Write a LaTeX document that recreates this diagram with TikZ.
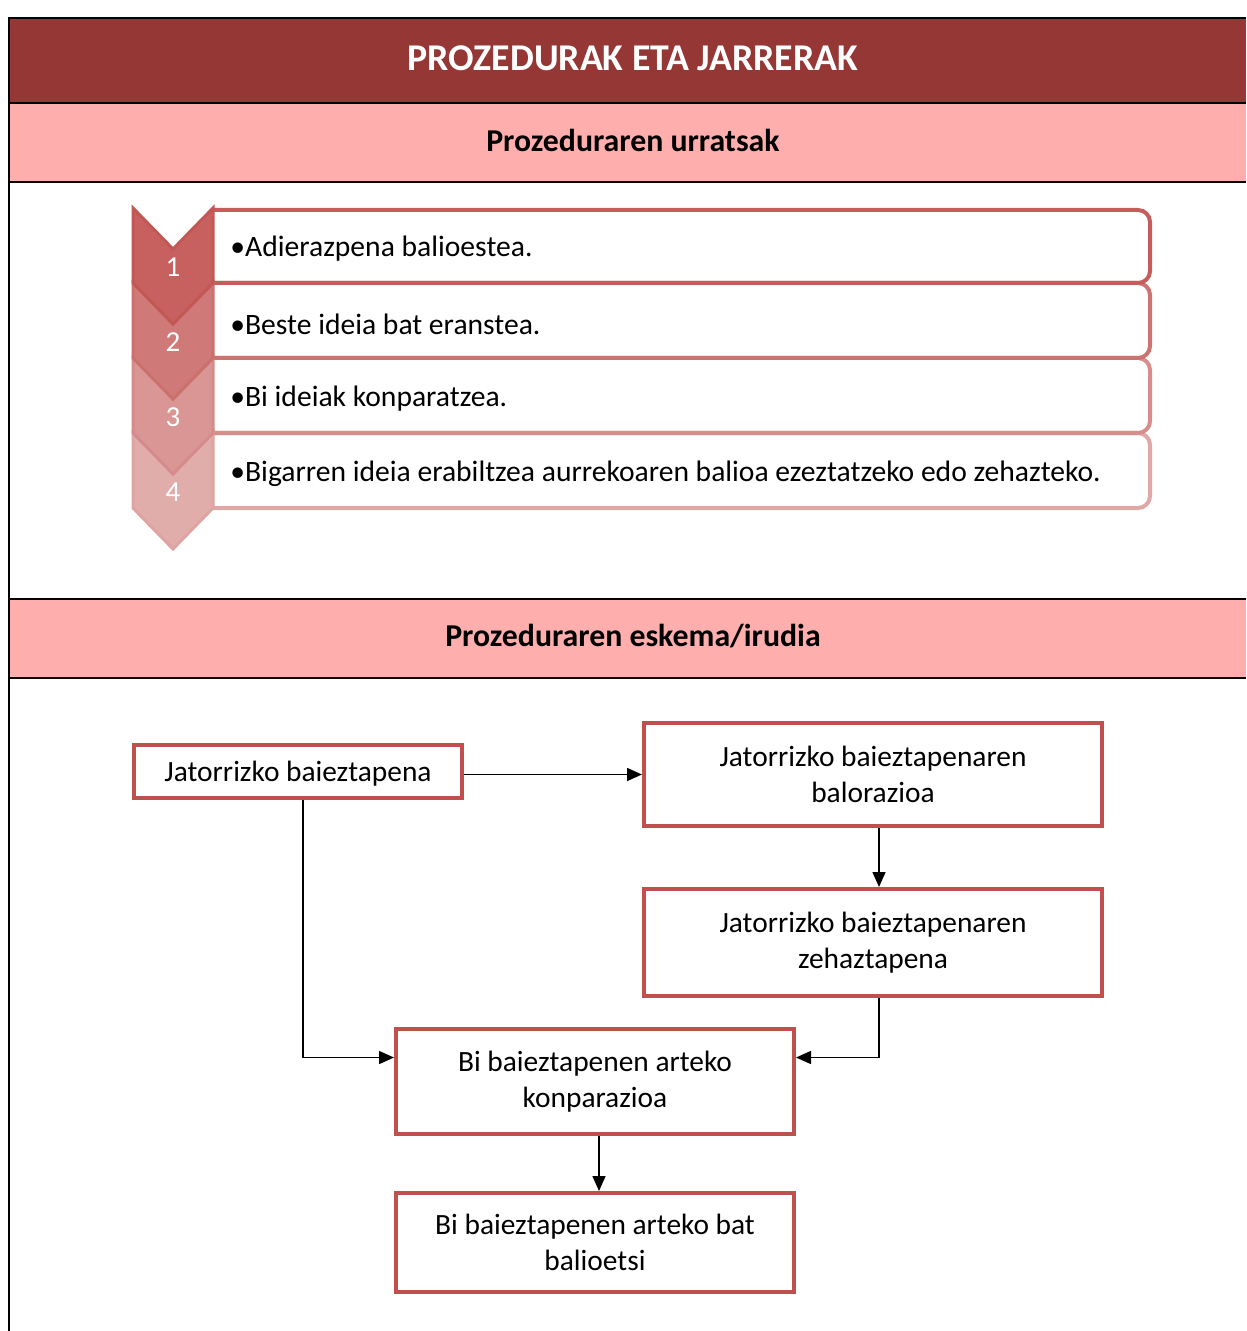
\documentclass[tikz,border=0pt]{standalone}
\usepackage{fontspec}
\setmainfont{Carlito}
\usetikzlibrary{arrows.meta,calc}
\definecolor{hdrred}{RGB}{149,55,53}
\definecolor{bandpink}{RGB}{255,174,174}
\definecolor{boxred}{RGB}{192,80,77}

\begin{document}
\begin{tikzpicture}[
      x=0.5pt, y=-0.5pt,
      frame/.style={draw=black, line width=1pt},
      band/.style={fill=bandpink},
      sect/.style={font=\fontsize{15.9}{18}\selectfont\bfseries, text=black},
      chev/.style 2 args={fill=boxred!#1, draw=boxred!#2, line width=1.5pt, line join=miter},
      num/.style={font=\fontsize{14.5}{16}\selectfont, text=white},
      itembox/.style={draw=boxred!#1, line width=2pt, rounded corners=6pt},
      item/.style={anchor=west, font=\fontsize{14.8}{17}\selectfont, inner sep=0pt},
      fbox/.style 2 args={draw=boxred, line width=2pt, minimum width=#1, minimum height=#2,
                          align=center, font=\fontsize{14.7}{18}\selectfont, inner sep=0pt},
      arr/.style={-{Triangle[length=7.5pt, width=6.5pt]}, line width=0.75pt},
    ]
    \useasboundingbox (0,0) rectangle (1246,1331);

    % header bands
    \fill[hdrred] (9,18) rectangle (1246,103);
    \fill[band] (9,103) rectangle (1246,182);
    \fill[band] (9,599) rectangle (1246,678);
    \draw[frame] (9,1331) -- (9,18) -- (1246,18);
    \draw[frame] (9,103) -- (1246,103);
    \draw[frame] (9,182) -- (1246,182);
    \draw[frame] (9,599) -- (1246,599);
    \draw[frame] (9,678) -- (1246,678);

    \node[font=\fontsize{18.9}{22}\selectfont\bfseries, text=white] (title) at (633,58)
      {PROZEDURAK ETA JARRERAK};
    \node[sect] (steps) at (633,140) {Prozeduraren urratsak};
    \node[sect] (scheme) at (633,636) {Prozeduraren eskema/irudia};

    % step list
    \draw[itembox=50] (213,433) -- (1150,433) -- (1150,508) -- (213,508);
    \draw[itembox=65] (213,358) -- (1150,358) -- (1150,433) -- (213,433);
    \draw[itembox=80] (213,283) -- (1150,283) -- (1150,358) -- (213,358);
    \draw[itembox=92] (213,210) -- (1150,210) -- (1150,283) -- (213,283);

    \node[item] (s1) at (230,249) {•Adierazpena balioestea.};
    \node[item] (s2) at (230,324) {•Beste ideia bat eranstea.};
    \node[item] (s3) at (230,399) {•Bi ideiak konparatzea.};
    \node[item] (s4) at (230,474) {•Bigarren ideia erabiltzea aurrekoaren balioa ezeztatzeko edo zehazteko.};

    \draw[chev={47}{52}] (133,433) -- ++(40,41) -- ++(40,-41) -- ++(0,75) -- ++(-40,41) -- ++(-40,-41) -- cycle;
    \draw[chev={60}{66}] (133,358) -- ++(40,41) -- ++(40,-41) -- ++(0,75) -- ++(-40,41) -- ++(-40,-41) -- cycle;
    \draw[chev={76}{82}] (133,283) -- ++(40,41) -- ++(40,-41) -- ++(0,75) -- ++(-40,41) -- ++(-40,-41) -- cycle;
    \draw[chev={90}{96}] (133,208) -- ++(40,41) -- ++(40,-41) -- ++(0,75) -- ++(-40,41) -- ++(-40,-41) -- cycle;

    \node[num] (n1) at (173,267) {1};
    \node[num] (n2) at (173,342) {2};
    \node[num] (n3) at (173,417) {3};
    \node[num] (n4) at (173,492) {4};

    % flow scheme
    \node[fbox={164pt}{26.5pt}] (orig) at (298,771.5) {\raisebox{-5pt}[0pt][0pt]{Jatorrizko baieztapena}};
    \node[fbox={229pt}{51.5pt}] (value) at (873,774.5) {Jatorrizko baieztapenaren\\balorazioa};
    \node[fbox={229pt}{53.5pt}] (detail) at (873,942.5) {Jatorrizko baieztapenaren\\zehaztapena};
    \node[fbox={199pt}{52.5pt}] (compare) at (595,1081.5) {Bi baieztapenen arteko\\konparazioa};
    \node[fbox={199pt}{49.5pt}] (choose) at (595,1242.5) {Bi baieztapenen arteko bat\\balioetsi};

    \draw[arr] (orig.east |- value.west) -- (value.west);
    \draw[arr] ([xshift=3pt]value.south) -- ([xshift=3pt]detail.north);
    \draw[arr] ([xshift=2.5pt]orig.south) |- ([yshift=12pt]compare.west);
    \draw[arr] ([xshift=3pt]detail.south) |- ([yshift=12pt]compare.east);
    \draw[arr] ([xshift=2pt]compare.south) -- ([xshift=2pt]choose.north);
  \end{tikzpicture}
\end{document}
